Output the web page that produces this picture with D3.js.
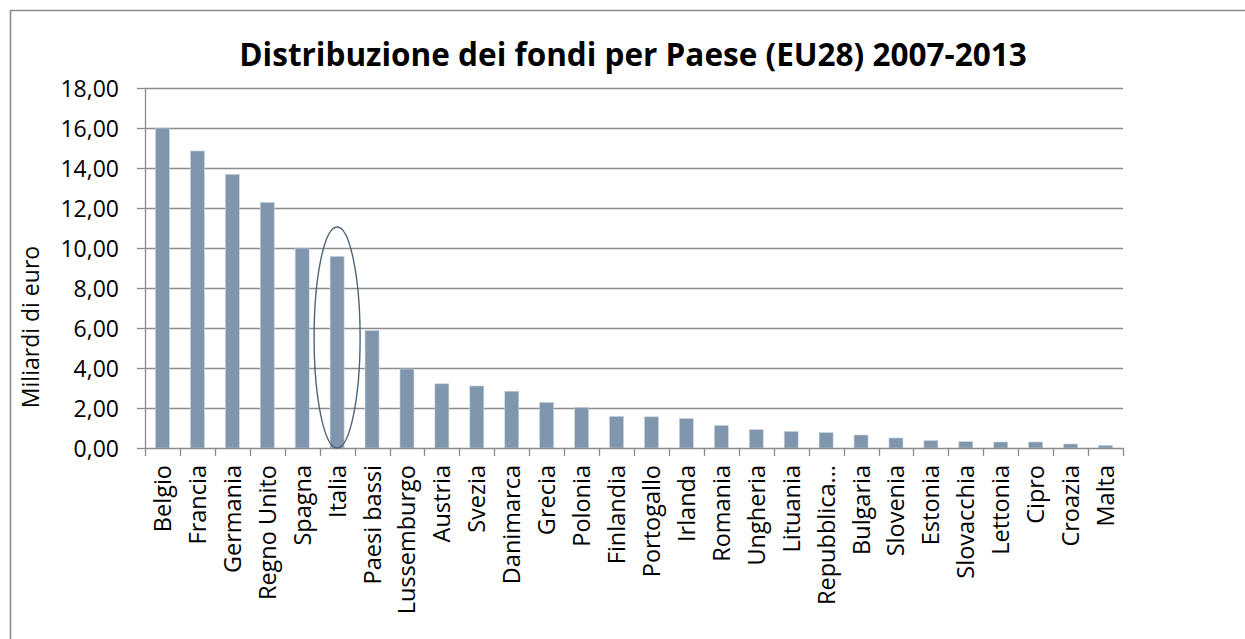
<!DOCTYPE html>
<html>
<head>
<meta charset="utf-8">
<script src="https://cdn.jsdelivr.net/npm/d3@7"></script>
<style>
  body { margin: 0; background: #fff; }
  svg text { font-family: "Open Sans", Lato, sans-serif; fill: #000; }
</style>
</head>
<body>
<script>
//DATA
const paesi = ["Belgio", "Francia", "Germania", "Regno Unito", "Spagna", "Italia", "Paesi bassi",
  "Lussemburgo", "Austria", "Svezia", "Danimarca", "Grecia", "Polonia", "Finlandia", "Portogallo",
  "Irlanda", "Romania", "Ungheria", "Lituania", "Repubblica...", "Bulgaria", "Slovenia", "Estonia",
  "Slovacchia", "Lettonia", "Cipro", "Croazia", "Malta"];
const fondi = [16.0, 14.85, 13.68, 12.28, 10.0, 9.58, 5.87,
  3.95, 3.21, 3.10, 2.84, 2.28, 2.03, 1.58, 1.56,
  1.47, 1.13, 0.92, 0.83, 0.77, 0.65, 0.50, 0.37,
  0.32, 0.30, 0.30, 0.20, 0.13];
const yTicks = [0, 2, 4, 6, 8, 10, 12, 14, 16, 18];
const titolo = "Distribuzione dei fondi per Paese (EU28) 2007-2013";
const yLabel = "Miliardi di euro";
const evidenziato = "Italia";
const evidenziatoTop = 11.05;

//SIZES
const svgwidth = 1245;
const svgheight = 639;
const margin = { top: 88, right: 122, bottom: 191, left: 145 };
const graphwidth = svgwidth - margin.left - margin.right;
const graphheight = svgheight - margin.top - margin.bottom;

const svg = d3.select("body").append("svg")
  .attr("width", svgwidth)
  .attr("height", svgheight);

//OUTER BORDER
svg.append("path")
  .attr("d", `M10.5,${svgheight} V10.5 H${svgwidth}`)
  .attr("fill", "none")
  .attr("stroke", "#8c8c8c")
  .attr("stroke-width", 1.6);

//TITLE
svg.append("text")
  .attr("x", 633)
  .attr("y", 66)
  .attr("text-anchor", "middle")
  .style("font-size", "31.5px")
  .style("font-weight", "bold")
  .text(titolo);

const graph = svg.append("g")
  .attr("transform", `translate(${margin.left},${margin.top})`);

//SCALES
const x = d3.scaleBand().domain(paesi).range([0, graphwidth]).paddingInner(0.6).paddingOuter(0.3);
const xb = d3.scaleBand().domain(paesi).range([0, graphwidth]);
const y = d3.scaleLinear().domain([0, 18]).range([graphheight, 0]);

//GRID
graph.append("g")
  .selectAll("line")
  .data(yTicks.filter(d => d > 0))
  .join("line")
  .attr("x1", 0).attr("x2", graphwidth)
  .attr("y1", d => Math.round(y(d)) + 0.5).attr("y2", d => Math.round(y(d)) + 0.5)
  .attr("stroke", "#8c8c8c")
  .attr("stroke-width", 1.3);

//BARS
graph.append("g")
  .selectAll("rect")
  .data(fondi)
  .join("rect")
  .attr("x", (d, i) => x(paesi[i]))
  .attr("y", d => y(d))
  .attr("width", x.bandwidth())
  .attr("height", d => graphheight - y(d))
  .attr("fill", "#7f96ad")
  .attr("stroke", "#c9d3de")
  .attr("stroke-width", 0.6);

//Y AXIS
const yaxis = graph.append("g")
  .call(d3.axisLeft(y).tickValues(yTicks).tickSize(8).tickSizeOuter(0)
    .tickFormat(d => d3.format(".2f")(d).replace(".", ",")));
yaxis.selectAll("text").style("font-size", "23px").attr("x", -26).attr("dy", "0.35em");
yaxis.selectAll("line, path").attr("stroke", "#8c8c8c").attr("stroke-width", 1.3);

//X AXIS
const xaxis = graph.append("g")
  .attr("transform", `translate(0,${graphheight})`)
  .call(d3.axisBottom(xb).tickSize(0).tickSizeOuter(0));
xaxis.select(".domain").attr("stroke", "#8c8c8c").attr("stroke-width", 1.6);
xaxis.selectAll("text")
  .style("font-size", "23.5px")
  .attr("text-anchor", "end")
  .attr("transform", "rotate(-90)")
  .attr("x", -17)
  .attr("y", 0)
  .attr("dy", "0.36em");

//X TICK MARKS AT BAND EDGES
graph.append("g")
  .selectAll("line")
  .data(paesi.map(p => xb(p)).concat([graphwidth]))
  .join("line")
  .attr("x1", d => Math.round(d) + 0.5).attr("x2", d => Math.round(d) + 0.5)
  .attr("y1", graphheight).attr("y2", graphheight + 8)
  .attr("stroke", "#8c8c8c")
  .attr("stroke-width", 1.3);

//HIGHLIGHT ELLIPSE
graph.append("ellipse")
  .attr("cx", xb(evidenziato) + xb.bandwidth() / 2)
  .attr("cy", (y(0) + y(evidenziatoTop)) / 2)
  .attr("rx", 23)
  .attr("ry", (y(0) - y(evidenziatoTop)) / 2)
  .attr("fill", "none")
  .attr("stroke", "#4e6478")
  .attr("stroke-width", 1.4);

//Y LABEL
svg.append("text")
  .attr("transform", `translate(39,327) rotate(-90)`)
  .attr("text-anchor", "middle")
  .style("font-size", "23px")
  .text(yLabel);
</script>
</body>
</html>
